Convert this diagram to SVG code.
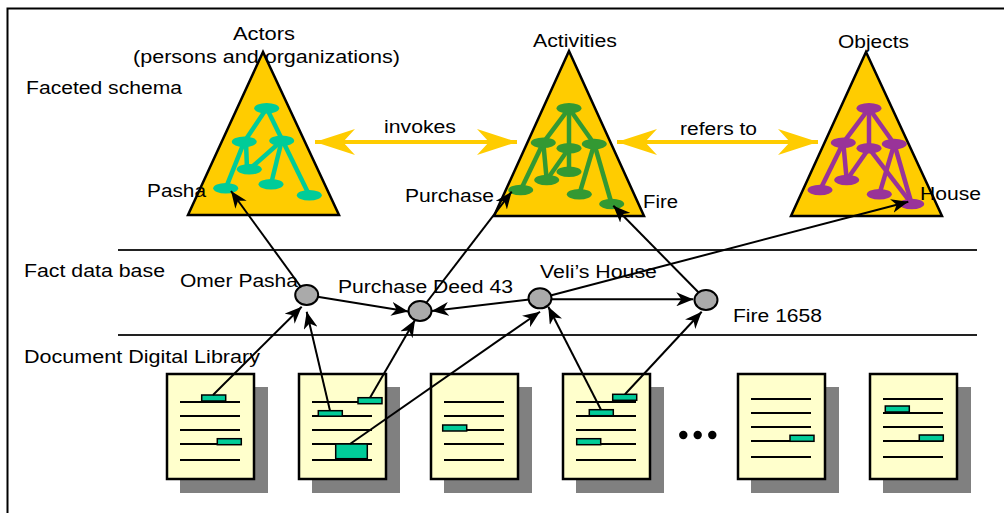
<svg xmlns="http://www.w3.org/2000/svg" width="1004" height="513" viewBox="0 0 1004 513">
<style>
text{font-family:"Liberation Sans",Arial,sans-serif;font-size:17.5px;fill:#000}
.tri{fill:#FFCC00;stroke:#000;stroke-width:2.5;stroke-linejoin:miter}
.te{stroke:#00CC99;stroke-width:4.5;fill:none}
.tn{fill:#00CC99}
.ge{stroke:#339933;stroke-width:4.5;fill:none}
.gn{fill:#339933}
.pe{stroke:#993399;stroke-width:4.5;fill:none}
.pn{fill:#993399}
.yl{stroke:#FFCC00;stroke-width:4;fill:none;marker-start:url(#ya);marker-end:url(#ya)}
.cn{stroke:#000;stroke-width:2;fill:none;marker-end:url(#ba)}
.gray{fill:#AAAAAA;stroke:#000;stroke-width:2}
.sh{fill:#808080}
.pg{fill:#FFFFCC;stroke:#000;stroke-width:2.5}
.ln{stroke:#000;stroke-width:2}
.hl{fill:#00CC99;stroke:#000;stroke-width:1.5}
.sep{stroke:#222;stroke-width:2}
</style>
<defs>
<marker id="ya" markerUnits="userSpaceOnUse" viewBox="0 0 40 26" markerWidth="40" markerHeight="26" refX="40" refY="13" orient="auto-start-reverse">
<path d="M0,0 L40,13 L0,26 L12,13 Z" fill="#FFCC00"/>
</marker>
<marker id="ba" markerUnits="userSpaceOnUse" viewBox="0 0 17 14" markerWidth="17" markerHeight="14" refX="17" refY="7" orient="auto">
<path d="M0,0 L17,7 L0,14 L5,7 Z" fill="#000"/>
</marker>
<g id="doclines">
<line class="ln" x1="13" y1="28" x2="73" y2="28"/>
<line class="ln" x1="13" y1="42" x2="73" y2="42"/>
<line class="ln" x1="13" y1="56" x2="73" y2="56"/>
<line class="ln" x1="13" y1="70" x2="73" y2="70"/>
<line class="ln" x1="13" y1="86" x2="73" y2="86"/>
</g>
<g id="doclines2">
<line class="ln" x1="13" y1="25" x2="73" y2="25"/>
<line class="ln" x1="13" y1="39" x2="73" y2="39"/>
<line class="ln" x1="13" y1="53" x2="73" y2="53"/>
<line class="ln" x1="13" y1="67" x2="73" y2="67"/>
<line class="ln" x1="13" y1="83" x2="73" y2="83"/>
</g>
<g id="page">
<rect class="sh" x="13" y="13" width="88" height="106"/>
<rect class="pg" x="0" y="0" width="87" height="105"/>
</g>
</defs>

<rect x="7.5" y="8.5" width="1010" height="520" fill="#fff" stroke="#000" stroke-width="2"/>

<g id="layers">
<line class="sep" x1="118" y1="250" x2="977" y2="250"/>
<line class="sep" x1="118" y1="335" x2="977" y2="335"/>
<text x="26" y="94" textLength="156" lengthAdjust="spacingAndGlyphs">Faceted schema</text>
<text x="24" y="277" textLength="141" lengthAdjust="spacingAndGlyphs">Fact data base</text>
<text x="24" y="363" textLength="236" lengthAdjust="spacingAndGlyphs">Document Digital Library</text>
</g>

<g id="actors">
<polygon class="tri" points="263,52 188,215 339,215"/>
<line class="te" x1="266.7" y1="108.3" x2="244.3" y2="141.7"/>
<line class="te" x1="266.7" y1="108.3" x2="309.3" y2="195.3"/>
<line class="te" x1="246" y1="141.7" x2="247" y2="169.3"/>
<line class="te" x1="244.3" y1="141.7" x2="225.7" y2="188.3"/>
<line class="te" x1="281.7" y1="140.7" x2="249.3" y2="169.3"/>
<line class="te" x1="281.7" y1="140.7" x2="271" y2="184.3"/>
<ellipse class="tn" cx="266.7" cy="108.3" rx="12.5" ry="5.2"/>
<ellipse class="tn" cx="244.3" cy="141.7" rx="12.5" ry="5.2"/>
<ellipse class="tn" cx="281.7" cy="140.7" rx="12.5" ry="5.2"/>
<ellipse class="tn" cx="249.3" cy="169.3" rx="12.5" ry="5.2"/>
<ellipse class="tn" cx="271" cy="184.3" rx="12.5" ry="5.2"/>
<ellipse class="tn" cx="225.7" cy="188.3" rx="12.5" ry="5.2"/>
<ellipse class="tn" cx="309.3" cy="195.3" rx="12.5" ry="5.2"/>
<text x="233" y="40" textLength="62" lengthAdjust="spacingAndGlyphs">Actors</text>
<text x="133" y="63" textLength="267" lengthAdjust="spacingAndGlyphs">(persons and organizations)</text>
<text x="147" y="197" textLength="59" lengthAdjust="spacingAndGlyphs">Pasha</text>
</g>

<g id="activities">
<polygon class="tri" points="569,51 494,216 644,216"/>
<line class="ge" x1="569" y1="108.3" x2="543.3" y2="142.7"/>
<line class="ge" x1="569" y1="108.3" x2="569" y2="171.7"/>
<line class="ge" x1="569" y1="108.3" x2="594.3" y2="144"/>
<line class="ge" x1="543.3" y1="142.7" x2="546.7" y2="180"/>
<line class="ge" x1="543.3" y1="142.7" x2="520.7" y2="190"/>
<line class="ge" x1="569" y1="148.3" x2="546.7" y2="180"/>
<line class="ge" x1="594.3" y1="144" x2="579.3" y2="194.3"/>
<line class="ge" x1="594.3" y1="144" x2="611.7" y2="204"/>
<ellipse class="gn" cx="569" cy="108.3" rx="12.5" ry="5.2"/>
<ellipse class="gn" cx="543.3" cy="142.7" rx="12.5" ry="5.2"/>
<ellipse class="gn" cx="569" cy="148.3" rx="12.5" ry="5.2"/>
<ellipse class="gn" cx="594.3" cy="144" rx="12.5" ry="5.2"/>
<ellipse class="gn" cx="569" cy="171.7" rx="12.5" ry="5.2"/>
<ellipse class="gn" cx="546.7" cy="180" rx="12.5" ry="5.2"/>
<ellipse class="gn" cx="520.7" cy="190" rx="12.5" ry="5.2"/>
<ellipse class="gn" cx="579.3" cy="194.3" rx="12.5" ry="5.2"/>
<ellipse class="gn" cx="611.7" cy="204" rx="12.5" ry="5.2"/>
<text x="533" y="47" textLength="84" lengthAdjust="spacingAndGlyphs">Activities</text>
<text x="405" y="202" textLength="89" lengthAdjust="spacingAndGlyphs">Purchase</text>
<text x="643" y="208" textLength="35" lengthAdjust="spacingAndGlyphs">Fire</text>
</g>

<g id="objects">
<polygon class="tri" points="866,52 791,216 942,216"/>
<line class="pe" x1="869" y1="108.3" x2="843.3" y2="142.7"/>
<line class="pe" x1="869" y1="108.3" x2="869" y2="148.3"/>
<line class="pe" x1="869" y1="108.3" x2="894.3" y2="144"/>
<line class="pe" x1="843.3" y1="142.7" x2="846.7" y2="180"/>
<line class="pe" x1="843.3" y1="142.7" x2="820" y2="190"/>
<line class="pe" x1="869" y1="148.3" x2="846.7" y2="180"/>
<line class="pe" x1="869" y1="148.3" x2="911.7" y2="204"/>
<line class="pe" x1="894.3" y1="144" x2="879.3" y2="194.3"/>
<line class="pe" x1="894.3" y1="144" x2="911.7" y2="204"/>
<ellipse class="pn" cx="869" cy="108.3" rx="12.5" ry="5.2"/>
<ellipse class="pn" cx="843.3" cy="142.7" rx="12.5" ry="5.2"/>
<ellipse class="pn" cx="869" cy="148.3" rx="12.5" ry="5.2"/>
<ellipse class="pn" cx="894.3" cy="144" rx="12.5" ry="5.2"/>
<ellipse class="pn" cx="846.7" cy="180" rx="12.5" ry="5.2"/>
<ellipse class="pn" cx="820" cy="190" rx="12.5" ry="5.2"/>
<ellipse class="pn" cx="879.3" cy="194.3" rx="12.5" ry="5.2"/>
<ellipse class="pn" cx="911.7" cy="204" rx="12.5" ry="5.2"/>
<text x="838" y="48" textLength="71" lengthAdjust="spacingAndGlyphs">Objects</text>
<text x="920" y="200" textLength="61" lengthAdjust="spacingAndGlyphs">House</text>
</g>

<g id="facet-links">
<line class="yl" x1="315" y1="142" x2="517" y2="142"/>
<line class="yl" x1="617" y1="142" x2="818" y2="142"/>
<text x="384" y="133" textLength="72" lengthAdjust="spacingAndGlyphs">invokes</text>
<text x="680" y="135" textLength="77" lengthAdjust="spacingAndGlyphs">refers to</text>
</g>

<g id="doc1" transform="translate(167,374)">
<use href="#page"/><use href="#doclines"/>
<rect class="hl" x="34.7" y="21" width="24" height="6"/>
<rect class="hl" x="50.3" y="64.7" width="24" height="6"/>
</g>
<g id="doc2" transform="translate(299,374)">
<use href="#page"/><use href="#doclines"/>
<rect class="hl" x="19.3" y="36.7" width="24" height="5.5"/>
<rect class="hl" x="59" y="23.7" width="24" height="6"/>
<rect class="hl" x="36.7" y="70" width="31.6" height="14.7"/>
</g>
<g id="doc3" transform="translate(431,374)">
<use href="#page"/><use href="#doclines"/>
<rect class="hl" x="11.7" y="51" width="24" height="6"/>
</g>
<g id="doc4" transform="translate(563,374)">
<use href="#page"/><use href="#doclines"/>
<rect class="hl" x="26.3" y="35.7" width="24" height="6"/>
<rect class="hl" x="49.7" y="20.3" width="24" height="6"/>
<rect class="hl" x="13.7" y="64.7" width="24" height="6"/>
</g>
<g id="ellipsis">
<circle cx="683.3" cy="435" r="4.2"/>
<circle cx="697.7" cy="435" r="4.2"/>
<circle cx="712.3" cy="435" r="4.2"/>
</g>
<g id="doc5" transform="translate(738,374)">
<use href="#page"/><use href="#doclines2"/>
<rect class="hl" x="52" y="61.3" width="24" height="6"/>
</g>
<g id="doc6" transform="translate(870,374)">
<use href="#page"/><use href="#doclines2"/>
<rect class="hl" x="15.3" y="32" width="24" height="6"/>
<rect class="hl" x="49.3" y="61" width="24" height="6"/>
</g>

<g id="connectors">
<line class="cn" x1="306.7" y1="295" x2="231" y2="191"/>
<line class="cn" x1="306.7" y1="295" x2="408.3" y2="311.5"/>
<line class="cn" x1="540" y1="298.3" x2="431.7" y2="311"/>
<line class="cn" x1="420" y1="311" x2="511.7" y2="191.7"/>
<line class="cn" x1="706" y1="300" x2="613.3" y2="205.7"/>
<line class="cn" x1="540" y1="298.3" x2="908.3" y2="201.7"/>
<line class="cn" x1="540" y1="299.3" x2="693.3" y2="299.3"/>
<line class="cn" x1="213" y1="395" x2="301.7" y2="306.7"/>
<line class="cn" x1="330" y1="410.7" x2="306.7" y2="311.7"/>
<line class="cn" x1="370" y1="397.7" x2="415" y2="320"/>
<line class="cn" x1="350" y1="444" x2="540" y2="311.7"/>
<line class="cn" x1="601" y1="409.7" x2="548.3" y2="306.7"/>
<line class="cn" x1="625" y1="394.3" x2="701.7" y2="311.7"/>
</g>

<g id="omer-pasha">
<ellipse class="gray" cx="306.7" cy="295" rx="11.5" ry="10"/>
<text x="180" y="287" textLength="118" lengthAdjust="spacingAndGlyphs">Omer Pasha</text>
</g>
<g id="purchase-deed">
<ellipse class="gray" cx="420" cy="311" rx="11.5" ry="10"/>
<text x="338" y="293" textLength="175" lengthAdjust="spacingAndGlyphs">Purchase Deed 43</text>
</g>
<g id="velis-house">
<ellipse class="gray" cx="540" cy="298.3" rx="11.5" ry="10"/>
<text x="540" y="278" textLength="117" lengthAdjust="spacingAndGlyphs">Veli’s House</text>
</g>
<g id="fire-1658">
<ellipse class="gray" cx="706" cy="300" rx="11.5" ry="10"/>
<text x="733" y="322" textLength="89" lengthAdjust="spacingAndGlyphs">Fire 1658</text>
</g>
</svg>
